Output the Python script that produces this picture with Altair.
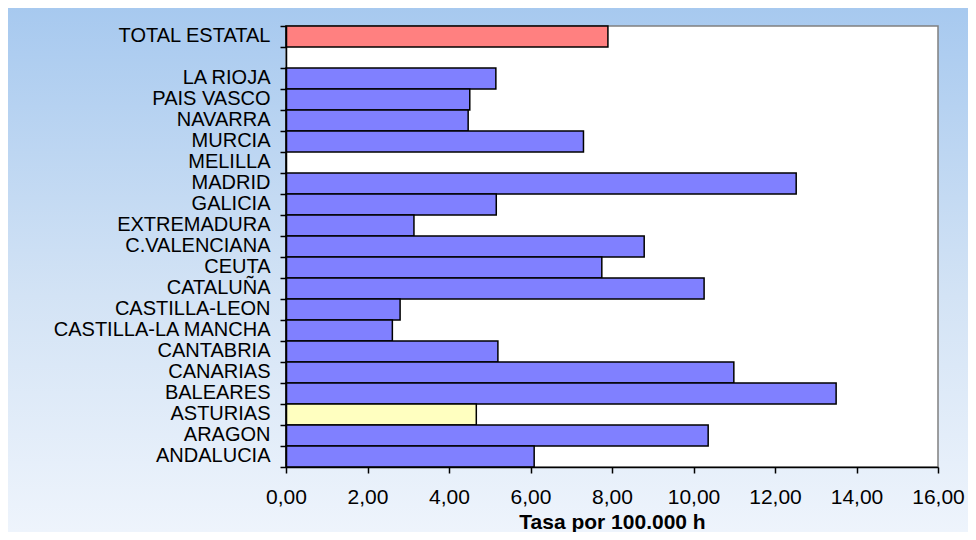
import altair as alt
import pandas as pd

# Categories top-to-bottom (blank slot after the total)
categories = ["TOTAL ESTATAL", " ", "LA RIOJA", "PAIS VASCO", "NAVARRA", "MURCIA",
              "MELILLA", "MADRID", "GALICIA", "EXTREMADURA", "C.VALENCIANA", "CEUTA",
              "CATALUÑA", "CASTILLA-LEON", "CASTILLA-LA MANCHA", "CANTABRIA",
              "CANARIAS", "BALEARES", "ASTURIAS", "ARAGON", "ANDALUCIA"]
regions = ["TOTAL ESTATAL", "LA RIOJA", "PAIS VASCO", "NAVARRA", "MURCIA",
           "MELILLA", "MADRID", "GALICIA", "EXTREMADURA", "C.VALENCIANA", "CEUTA",
           "CATALUÑA", "CASTILLA-LEON", "CASTILLA-LA MANCHA", "CANTABRIA",
           "CANARIAS", "BALEARES", "ASTURIAS", "ARAGON", "ANDALUCIA"]
values = [7.90, 5.15, 4.51, 4.47, 7.30,
          0.00, 12.52, 5.16, 3.14, 8.79, 7.75,
          10.26, 2.80, 2.61, 5.20,
          10.99, 13.50, 4.67, 10.36, 6.09]
groups = ["total", "region", "region", "region", "region",
          "region", "region", "region", "region", "region", "region",
          "region", "region", "region", "region",
          "region", "region", "highlight", "region", "region"]
tick_values = [0, 2, 4, 6, 8, 10, 12, 14, 16]

df = pd.DataFrame({"region": regions, "value": values, "group": groups})

W, H = 652, 441
PL, PT, PR, PB = 278, 18, 30, 65

bg = alt.Chart(pd.DataFrame({"a": [0]})).mark_rect(
    color=alt.Gradient(
        gradient="linear", x1=0, x2=0, y1=0, y2=1,
        stops=[alt.GradientStop(color="#A7C9EF", offset=0),
               alt.GradientStop(color="#D3E3F5", offset=0.55),
               alt.GradientStop(color="#EEF4FC", offset=1)]),
).encode(x=alt.value(-PL), x2=alt.value(W + PR), y=alt.value(-PT), y2=alt.value(H + PB))

frame = alt.Chart(pd.DataFrame({"a": [0]})).mark_rect(
    fill="white", stroke="#808080", strokeWidth=1.5
).encode(x=alt.value(0), x2=alt.value(W), y=alt.value(0), y2=alt.value(H))

bars = alt.Chart(df).mark_bar(stroke="black", strokeWidth=1.5).encode(
    y=alt.Y("region:N", sort=categories,
            scale=alt.Scale(domain=categories, paddingInner=0, paddingOuter=0),
            axis=alt.Axis(title=None, labelFont="Liberation Sans", labelFontSize=20,
                          labelColor="black", labelPadding=10, tickSize=6,
                          tickColor="black", tickWidth=1.5, tickBand="extent",
                          domainColor="black", domainWidth=1.5, labelOffset=-1.5,
                          labelLimit=400, labelOverlap=False, zindex=2)),
    x=alt.X("value:Q", scale=alt.Scale(domain=[0, 16], nice=False),
            axis=alt.Axis(title="Tasa por 100.000 h", values=tick_values,
                          labelExpr="replace(format(datum.value, '.2f'), '.', ',')",
                          labelFont="Liberation Sans", labelFontSize=21,
                          labelColor="black", labelPadding=13, tickSize=6,
                          labelFlush=False, labelOverlap=False,
                          tickColor="black", tickWidth=1.5, domainColor="black",
                          domainWidth=1.5, grid=False,
                          titleFont="Liberation Sans", titleFontSize=21,
                          titleFontWeight="bold", titleColor="black",
                          titlePadding=4, zindex=2)),
    color=alt.Color("group:N",
                    scale=alt.Scale(domain=["total", "region", "highlight"],
                                    range=["#FF8080", "#8080FF", "#FFFFC0"]),
                    legend=None),
)

chart = alt.layer(bg, frame, bars).properties(
    width=W, height=H,
    autosize=alt.AutoSizeParams(type="none"),
    padding={"left": PL, "top": PT, "right": PR, "bottom": PB},
).configure_view(stroke=None)

chart.save("out.html", embed_options={"renderer": "svg", "actions": False})
